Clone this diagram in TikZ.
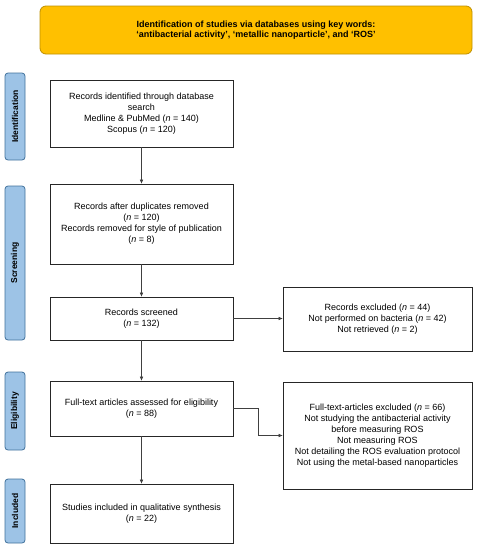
\documentclass[tikz,border=0pt]{standalone}
\usepackage{fontspec}
\setmainfont{Liberation Sans}
\usetikzlibrary{arrows.meta}
\definecolor{bannerfill}{HTML}{FFC000}
\definecolor{bannerline}{HTML}{BF9000}
\definecolor{phasefill}{HTML}{9DC3E6}
\definecolor{phaseline}{HTML}{41719C}
\tikzset{
  recbox/.style={draw=black!85, line width=0.6pt, fill=white, align=center,
    font=\fontsize{9}{11}\selectfont, inner sep=2pt},
  phase/.style={draw=phaseline, line width=0.8pt, fill=phasefill, rounded corners=3pt,
    rotate=90, minimum height=20pt, inner sep=0pt, font=\fontsize{8.5}{10}\selectfont\bfseries},
  flow/.style={draw=black!75, line width=0.5pt, -{Latex[length=4pt,width=3.5pt]}}
}
\begin{document}
\begin{tikzpicture}[x=1pt,y=-1pt]
	\useasboundingbox (0,0) rectangle (477,550);
	% banner
	\node[draw=bannerline, line width=0.8pt, fill=bannerfill, rounded corners=6pt,
	  minimum width=432pt, minimum height=48pt, align=center,
	  font=\fontsize{9}{10.5}\selectfont\bfseries] (banner) at (256,30)
	  {Identification of studies via databases using key words:\\
	   `antibacterial activity', `metallic nanoparticle', and `ROS'};
	% phases
	\node[phase, minimum width=87pt] (pid) at (15,116.5) {Identification};
	\node[phase, minimum width=154pt] (pscr) at (15,263) {Screening};
	\node[phase, minimum width=78pt] (pelig) at (15,411) {Eligibility};
	\node[phase, minimum width=64pt] (pinc) at (15,511) {Included};
	% main column
	\node[recbox, minimum width=183pt, minimum height=67pt] (ident) at (141.5,113.5)
	  {Records identified through database\\search\\Medline \& PubMed (\textit{n} = 140)\\Scopus (\textit{n} = 120)};
	\node[recbox, minimum width=183pt, minimum height=80pt] (dup) at (141.5,224)
	  {Records after duplicates removed\\(\textit{n} = 120)\\Records removed for style of publication\\(\textit{n} = 8)};
	\node[recbox, minimum width=183pt, minimum height=43pt] (scr) at (141.5,318.5)
	  {Records screened\\(\textit{n} = 132)};
	\node[recbox, minimum width=183pt, minimum height=55pt] (elig) at (141.5,408.5)
	  {Full-text articles assessed for eligibility\\(\textit{n} = 88)};
	\node[recbox, minimum width=183pt, minimum height=59pt] (incl) at (141.5,513.5)
	  {Studies included in qualitative synthesis\\(\textit{n} = 22)};
	% right column
	\node[recbox, minimum width=189pt, minimum height=64pt] (exrec) at (377.5,319)
	  {Records excluded (\textit{n} = 44)\\Not performed on bacteria (\textit{n} = 42)\\Not retrieved (\textit{n} = 2)};
	\node[recbox, minimum width=189pt, minimum height=107pt] (exfull) at (377.5,435.5)
	  {Full-text-articles excluded (\textit{n} = 66)\\Not studying the antibacterial activity\\before measuring ROS\\Not measuring ROS\\Not detailing the ROS evaluation protocol\\Not using the metal-based nanoparticles};
	% connectors
	\draw[flow] (ident) -- (dup);
	\draw[flow] (dup) -- (scr);
	\draw[flow] (scr) -- (elig);
	\draw[flow] (elig) -- (incl);
	\draw[flow] (scr.east) -- (scr.east -| exrec.west);
	\draw[flow] (elig.east) -- ++(25,0) |- (exfull.west);
\end{tikzpicture}
\end{document}
